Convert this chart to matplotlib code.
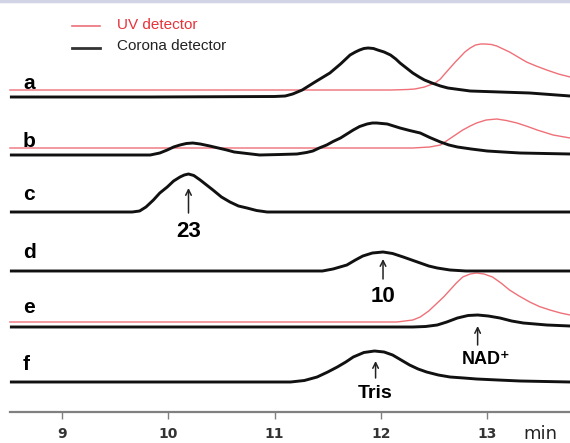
import matplotlib
matplotlib.use("Agg")
import matplotlib.pyplot as plt

plt.rcParams["font.family"] = ["Liberation Sans", "DejaVu Sans"]

# retention time (min) / signal height above each trace's own baseline
a_cor_t = [8.51, 9.83, 11.00, 11.10, 11.17, 11.26, 11.32, 11.38, 11.45, 11.52, 11.57, 11.62,
           11.67, 11.71, 11.76, 11.80, 11.84, 11.88, 11.93, 11.97, 12.03, 12.09, 12.14,
           12.18, 12.24, 12.30, 12.36, 12.41, 12.48, 12.56, 12.63, 12.70, 12.84, 13.12,
           13.40, 13.78]
a_cor_h = [0, 0, 0.5, 1, 3, 7, 11, 15, 19.5, 24, 28.5, 33, 38, 42, 45, 47, 48.5, 49, 48.5,
           47, 45, 42, 38, 34, 29, 24, 20, 17, 14, 11, 9, 8, 6, 5, 4, 1]
a_uv_t = [8.51, 12.10, 12.25, 12.32, 12.41, 12.51, 12.56, 12.60, 12.65, 12.70, 12.75, 12.79,
          12.84, 12.89, 12.94, 12.98, 13.04, 13.09, 13.15, 13.21, 13.29, 13.37, 13.46,
          13.56, 13.67, 13.78]
a_uv_h = [0, 0, 0.5, 1, 3, 7, 11, 16, 22, 28, 33.5, 38, 42, 45, 46, 46, 45.5, 44, 41, 38,
          33, 28, 24, 20, 16, 13]

b_cor_t = [8.51, 9.36, 9.83, 9.92, 9.99, 10.05, 10.11, 10.17, 10.23, 10.30, 10.39, 10.47,
           10.55, 10.62, 10.70, 10.78, 10.86, 11.05, 11.21, 11.30, 11.36, 11.42, 11.49,
           11.55, 11.62, 11.68, 11.74, 11.80, 11.87, 11.92, 11.96, 12.01, 12.06, 12.12,
           12.18, 12.27, 12.37, 12.46, 12.56, 12.64, 12.72, 12.85, 13.00, 13.15, 13.31,
           13.78]
b_cor_h = [0, 0, 0, 2, 5, 8, 10, 11.5, 12, 11, 9, 7, 5, 3, 2, 1, 0, 0.5, 1, 2.5, 4, 7, 10,
           13.5, 17, 21, 25, 28.5, 31, 32, 32, 31.5, 31, 29, 27, 24.5, 22, 17.5, 13, 10, 8,
           6, 4, 3, 2, 1]
b_uv_t = [8.51, 12.30, 12.46, 12.56, 12.63, 12.70, 12.77, 12.84, 12.90, 12.99, 13.09, 13.18,
          13.28, 13.38, 13.47, 13.62, 13.78]
b_uv_h = [0, 0, 1, 3, 8, 13, 18, 22, 25, 28, 29, 27.5, 25, 21.5, 18, 13, 10]

c_cor_t = [8.51, 9.66, 9.73, 9.79, 9.86, 9.92, 9.99, 10.05, 10.11, 10.15, 10.19, 10.24,
           10.30, 10.36, 10.42, 10.50, 10.58, 10.66, 10.74, 10.83, 10.93, 13.78]
c_cor_h = [0, 0, 1, 5, 12, 19, 25, 31, 35, 37, 38, 36.5, 32, 27, 22, 15, 10, 6, 4, 1.5, 0, 0]

d_cor_t = [8.51, 11.45, 11.55, 11.68, 11.76, 11.83, 11.92, 12.02, 12.11, 12.21, 12.29,
           12.37, 12.45, 12.53, 12.65, 12.80, 13.78]
d_cor_h = [0, 0, 2, 6, 11, 15, 18, 19, 17.5, 14, 11, 8, 5, 3, 1, 0, 0]

e_cor_t = [8.51, 12.30, 12.42, 12.53, 12.62, 12.72, 12.82, 12.91, 13.01, 13.12, 13.23,
           13.34, 13.45, 13.56, 13.78]
e_cor_h = [0, 0, 0.5, 2, 5, 9, 11.5, 12, 11, 9, 6, 4, 3, 2, 1]
e_uv_t = [8.51, 12.15, 12.30, 12.37, 12.45, 12.53, 12.59, 12.65, 12.71, 12.77, 12.84, 12.90,
          12.97, 13.05, 13.13, 13.21, 13.30, 13.40, 13.49, 13.59, 13.69, 13.78]
e_uv_h = [0, 0, 2, 5, 11, 19, 25, 32, 39, 45, 48, 49, 48, 45, 39, 32, 26, 20, 15.5, 12, 9, 7]

f_cor_t = [8.51, 11.15, 11.28, 11.40, 11.50, 11.59, 11.67, 11.74, 11.84, 11.94, 12.03,
           12.11, 12.19, 12.27, 12.35, 12.43, 12.54, 12.65, 12.78, 12.90, 13.10, 13.31,
           13.78]
f_cor_h = [0, 0, 1.5, 5, 10, 15, 20, 25, 29.5, 31, 30, 27, 22, 17, 13, 10, 7, 5, 4, 3, 2,
           1, 0]

# panel letter, corona trace, uv trace (or None), baselines in figure pixels
traces = [
    ("a", (a_cor_t, a_cor_h), (a_uv_t, a_uv_h), 97, 90),
    ("b", (b_cor_t, b_cor_h), (b_uv_t, b_uv_h), 155, 148),
    ("c", (c_cor_t, c_cor_h), None, 212, None),
    ("d", (d_cor_t, d_cor_h), None, 271, None),
    ("e", (e_cor_t, e_cor_h), (e_uv_t, e_uv_h), 327, 322),
    ("f", (f_cor_t, f_cor_h), None, 382, None),
]
letter_base = {"a": 89, "b": 147, "c": 200, "d": 258, "e": 313, "f": 370}

peak_labels = ["23", "10", "NAD⁺", "Tris"]
peak_times = [10.19, 12.02, 12.91, 11.95]

UV = "#ef7078"
COR = "#111111"

fig = plt.figure(figsize=(5.7, 4.43), dpi=100)
ax = fig.add_axes([0, 0, 1, 1])
ax.set_xlim(8.4167, 13.779)
ax.set_ylim(443, 0)

for letter, cor, uv, cb, ub in traces:
    if uv is not None:
        ax.plot(uv[0], [ub - h for h in uv[1]], color=UV, lw=1.0, zorder=2)
    ax.plot(cor[0], [cb - h for h in cor[1]], color=COR, lw=2.1, zorder=3,
            solid_capstyle="butt", solid_joinstyle="round")
    ax.text(8.633, letter_base[letter], letter, fontsize=15, fontweight="bold",
            ha="left", va="baseline")

# peak annotations: (arrow tail y, arrow head y, label y)
ann_y = [(213, 188, 231), (279, 259, 296), (345, 326, 360), (378, 361, 394)]
label_dx = [0, 0, 0.08, 0]
label_fs = [16, 16, 13, 14]
for lab, t, (y0, y1, ly), dx, fs in zip(peak_labels, peak_times, ann_y, label_dx, label_fs):
    ax.annotate("", xy=(t, y1), xytext=(t, y0),
                arrowprops=dict(arrowstyle="->", color="#222222", lw=1.1,
                                mutation_scale=10, shrinkA=0, shrinkB=0))
    ax.text(t + dx, ly, lab, fontsize=fs, fontweight="bold", ha="center", va="center")

# legend
ax.plot([9.094, 9.357], [26, 26], color=UV, lw=1.2)
ax.plot([9.094, 9.357], [48, 48], color="#333333", lw=2.0)
ax.text(9.52, 25, "UV detector", color="#e8323a", fontsize=11, va="center", ha="left")
ax.text(9.52, 46, "Corona detector", color="#222222", fontsize=11, va="center", ha="left")

# bottom time axis
for s in ["top", "left", "right"]:
    ax.spines[s].set_visible(False)
ax.spines["bottom"].set_position(("data", 412))
ax.spines["bottom"].set_bounds(8.51, 13.779)
ax.spines["bottom"].set_color("#808080")
ax.spines["bottom"].set_linewidth(1.6)
ax.set_yticks([])
ax.set_xticks([9, 10, 11, 12, 13])
ax.set_xticklabels(["9", "10", "11", "12", "13"])
ax.tick_params(axis="x", direction="out", length=5, width=1, color="#808080",
               labelsize=10, labelcolor="#333333", pad=6)
for lbl in ax.get_xticklabels():
    lbl.set_fontweight("bold")
    lbl.set_family(["DejaVu Sans"])
ax.text(13.5, 434, "min", fontsize=13, color="#222222", ha="center", va="center",
        family=["DejaVu Sans"])

# thin frame line along the top edge
ax.axhline(1, color="#d0d4e4", lw=2.5)

fig.savefig("out.png", dpi=100)
